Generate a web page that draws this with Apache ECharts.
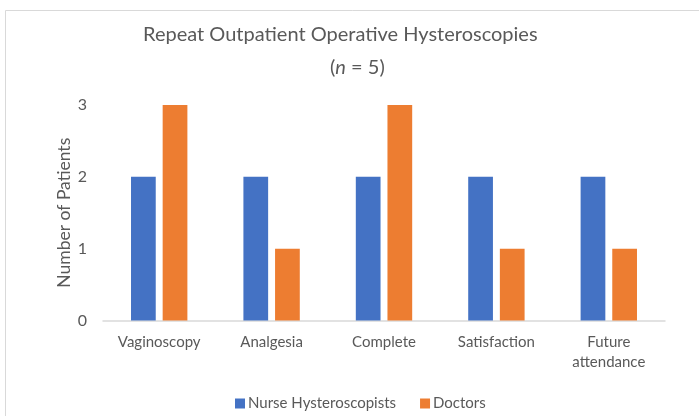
<!DOCTYPE html>
<html>
<head>
<meta charset="utf-8">
<script src="https://cdn.jsdelivr.net/npm/echarts@6/dist/echarts.min.js"></script>
<style>
  html, body { margin: 0; padding: 0; background: #fff; }
  #chart { width: 699px; height: 416px; }
</style>
</head>
<body>
<div id="chart"></div>
<script>
// donnees
var categories = ['Vaginoscopy', 'Analgesia', 'Complete', 'Satisfaction', 'Future\nattendance'];
var nurseValues = [2, 2, 2, 2, 2];
var doctorValues = [3, 1, 3, 1, 1];
var yTicks = [0, 1, 2, 3];

var textColor = '#595959';
var font = 'Lato';
var fs = 15;

var chart = echarts.init(document.getElementById('chart'));

var option = {
  backgroundColor: '#fff',
  animation: false,
  textStyle: { fontFamily: font },
  graphic: [{
    type: 'rect',
    shape: { x: 5.5, y: 10.5, width: 800, height: 500 },
    style: { fill: 'none', stroke: '#d9d9d9', lineWidth: 1 },
    silent: true
  }],
  title: [{
    text: 'Repeat Outpatient Operative Hysteroscopies',
    left: 143,
    top: 25,
    padding: 0,
    textStyle: { fontFamily: font, fontSize: 20, fontWeight: 'normal', color: textColor }
  }, {
    text: '{a|(}{i|n}{a| = 5)}',
    left: 330,
    top: 58,
    padding: 0,
    textStyle: {
      fontWeight: 'normal',
      rich: {
        a: { fontFamily: font, fontSize: 20, fontWeight: 'normal', color: textColor },
        i: { fontFamily: font, fontSize: 20, fontWeight: 'normal', color: textColor, fontStyle: 'italic' }
      }
    }
  }],
  legend: {
    data: ['Nurse Hysteroscopists', 'Doctors'],
    left: 235,
    top: 396,
    padding: 0,
    itemWidth: 10,
    itemHeight: 10,
    itemGap: 24,
    icon: 'rect',
    textStyle: { fontFamily: font, fontSize: fs, color: textColor, padding: [0, 0, 0, -2] }
  },
  grid: { left: 103, right: 34, top: 105, bottom: 95.5, containLabel: false },
  xAxis: {
    type: 'category',
    data: categories,
    axisLine: { lineStyle: { color: '#d9d9d9', width: 1.5 } },
    axisTick: { show: false },
    axisLabel: { fontFamily: font, fontSize: fs, color: textColor, margin: 12, lineHeight: 20, interval: 0 }
  },
  yAxis: {
    type: 'value',
    min: yTicks[0],
    max: yTicks[yTicks.length - 1],
    interval: 1,
    name: 'Number of Patients',
    nameLocation: 'middle',
    nameGap: 30,
    nameMoveOverlap: false,
    nameTextStyle: { fontFamily: font, fontSize: 17.5, color: textColor },
    axisLine: { show: false },
    axisTick: { show: false },
    splitLine: { show: false },
    axisLabel: { fontFamily: font, fontSize: 16, color: textColor, margin: 16 }
  },
  series: [{
    name: 'Nurse Hysteroscopists',
    type: 'bar',
    data: nurseValues,
    barWidth: '22%',
    barGap: '28%',
    itemStyle: { color: '#4472c4' }
  }, {
    name: 'Doctors',
    type: 'bar',
    data: doctorValues,
    barWidth: '22%',
    itemStyle: { color: '#ed7d31' }
  }]
};

chart.setOption(option);
</script>
</body>
</html>
